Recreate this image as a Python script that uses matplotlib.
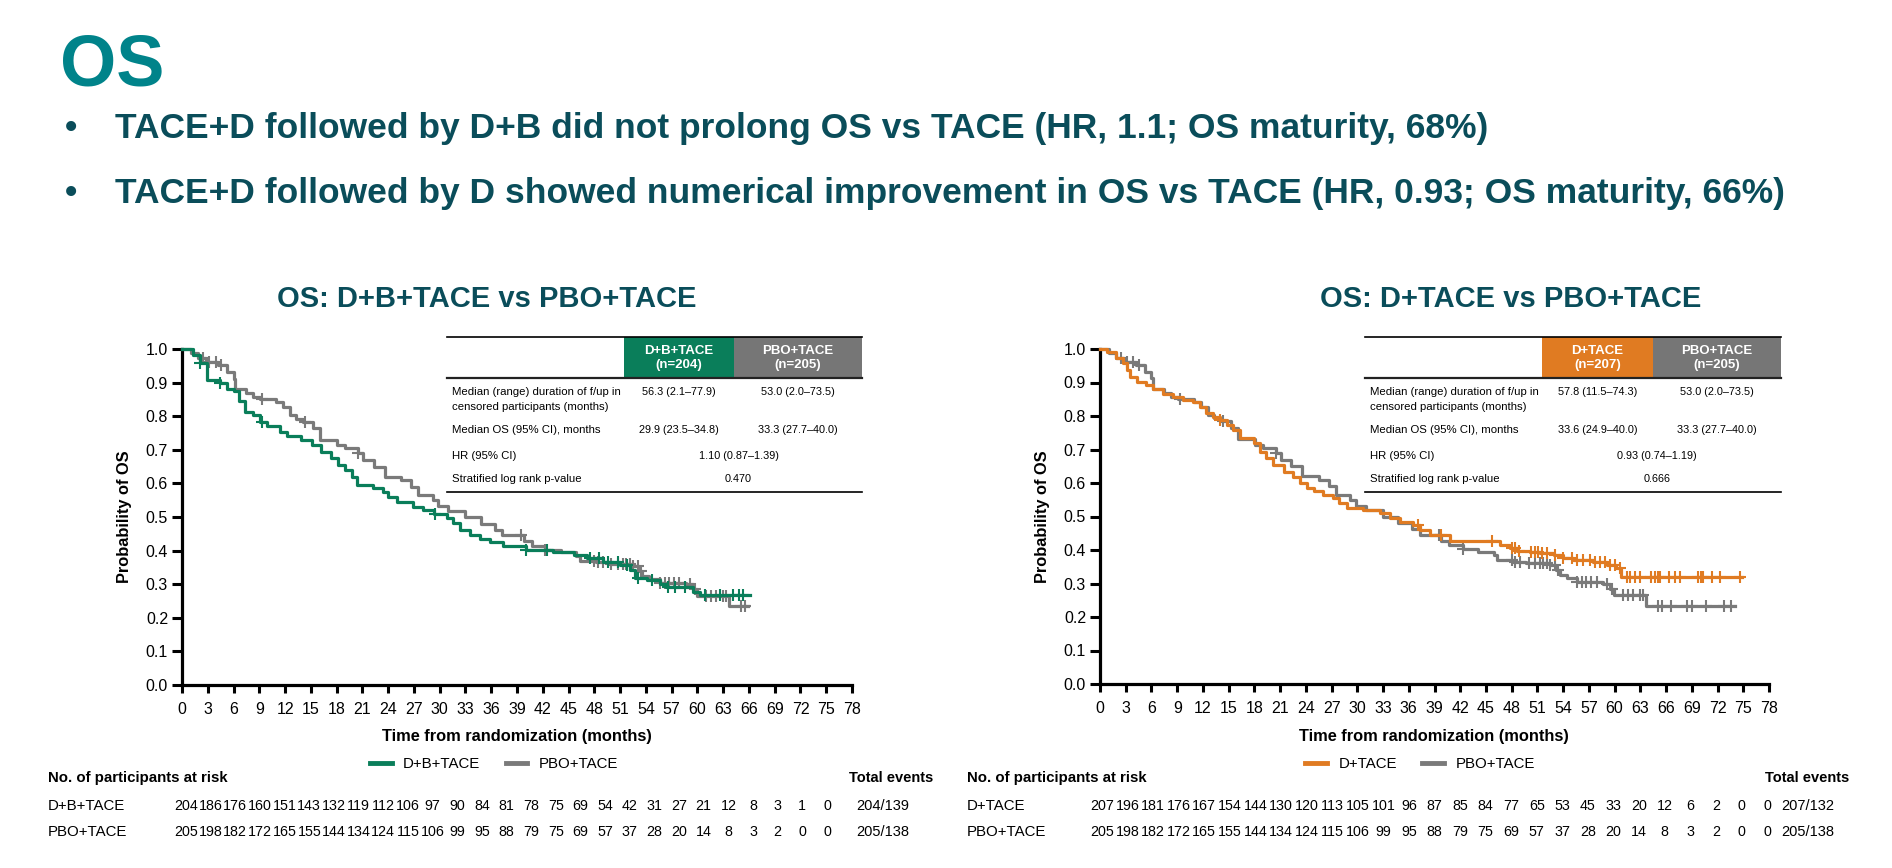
import numpy as np
import matplotlib
matplotlib.use("Agg")
import matplotlib.pyplot as plt
from matplotlib.lines import Line2D
from matplotlib.patches import Rectangle
from matplotlib.transforms import blended_transform_factory

NARROW = ["Liberation Sans Narrow", "Liberation Sans", "DejaVu Sans"]
plt.rcParams["font.family"] = NARROW

TEAL = "#00838A"
DARK = "#0A4D5A"
GREEN = "#0A7E5A"
ORANGE = "#E07B22"
GRAY = "#7A7A7A"

# ---- data ----
# PBO+TACE (same arm in both panels)
t_pbo = [0, 1.0, 1.9, 2.8, 4.2, 5.2, 6.0, 6.2, 7.5, 8.3, 9.1, 11.0, 11.8, 12.6, 13.3,
         14.1, 15.3, 16.1, 18.1, 19.0, 20.5, 21.1, 22.3, 23.6, 25.5, 26.7, 27.5, 29.2,
         29.8, 31.0, 33.0, 34.8, 36.4, 37.3, 39.8, 40.7, 42.3, 44.1, 45.9, 46.3, 48.2,
         49.7, 52.5, 53.2, 53.6, 54.4, 55.6, 58.7, 59.5, 59.9, 63.7]
s_pbo = [1.0, 0.987, 0.972, 0.962, 0.952, 0.932, 0.912, 0.88, 0.868, 0.858, 0.85, 0.843,
         0.828, 0.803, 0.793, 0.784, 0.764, 0.73, 0.714, 0.704, 0.69, 0.67, 0.65, 0.62,
         0.61, 0.59, 0.565, 0.55, 0.532, 0.518, 0.5, 0.48, 0.462, 0.445, 0.428, 0.414,
         0.402, 0.395, 0.385, 0.37, 0.365, 0.36, 0.355, 0.34, 0.325, 0.315, 0.305, 0.3,
         0.285, 0.265, 0.234]
c_pbo = [2.5, 3.2, 3.9, 4.5, 9.3, 14.3, 20.5, 39.5, 42.3, 48.0, 48.4, 49.0, 50.0, 50.7,
         51.3, 51.7, 52.1, 52.5, 53.1, 53.4, 55.6, 56.2, 56.7, 57.3, 57.9, 59.1, 59.7,
         61.0, 61.6, 62.2, 63.0, 63.3, 65.1, 65.5, 66.6, 68.4, 69.0, 70.7, 72.7, 73.6]

# D+B+TACE
t_db = [0, 1.3, 2.1, 2.9, 4.4, 5.2, 6.0, 6.6, 7.3, 8.3, 9.1, 9.9, 11.4, 12.2, 13.8, 15.1,
        16.2, 17.4, 18.2, 19.0, 19.8, 20.4, 22.2, 23.4, 24.0, 25.0, 26.9, 28.1, 29.3,
        30.8, 31.6, 32.4, 33.5, 34.7, 35.8, 37.4, 40.1, 43.2, 45.6, 47.1, 49.0, 51.0,
        52.1, 52.7, 54.1, 55.6, 56.4, 59.5, 60.3]
s_db = [1.0, 0.982, 0.957, 0.908, 0.9, 0.88, 0.875, 0.845, 0.813, 0.803, 0.784, 0.77,
        0.754, 0.74, 0.73, 0.714, 0.694, 0.675, 0.655, 0.64, 0.62, 0.595, 0.585, 0.575,
        0.56, 0.545, 0.531, 0.52, 0.51, 0.497, 0.481, 0.461, 0.446, 0.436, 0.426, 0.413,
        0.403, 0.397, 0.387, 0.377, 0.367, 0.357, 0.342, 0.317, 0.312, 0.302, 0.292,
        0.278, 0.268]
c_db = [2.1, 4.4, 9.3, 29.5, 40.1, 42.5, 47.5, 48.5, 49.6, 50.8, 51.8, 53.1, 54.7, 56.6,
        57.4, 58.5, 60.9, 62.6, 64.2, 64.8, 65.3]

# D+TACE
t_d = [0, 0.8, 1.9, 2.7, 3.1, 3.5, 4.3, 5.4, 6.2, 7.4, 8.5, 9.7, 10.9, 11.7, 12.4, 13.2,
       14.0, 14.8, 15.5, 16.3, 17.9, 18.7, 19.4, 20.2, 21.4, 22.5, 23.3, 24.1, 24.9, 26.0,
       27.2, 27.9, 28.8, 30.7, 32.6, 33.8, 35.0, 36.5, 37.3, 38.5, 40.8, 46.6, 47.8, 48.6,
       50.1, 51.3, 52.9, 54.0, 55.2, 57.5, 59.1, 60.2, 60.8]
s_d = [1.0, 0.992, 0.972, 0.957, 0.937, 0.917, 0.902, 0.892, 0.882, 0.867, 0.857, 0.848,
       0.843, 0.828, 0.808, 0.798, 0.788, 0.773, 0.758, 0.733, 0.718, 0.694, 0.674, 0.654,
       0.634, 0.619, 0.599, 0.585, 0.575, 0.564, 0.554, 0.539, 0.524, 0.519, 0.51, 0.495,
       0.485, 0.475, 0.46, 0.445, 0.427, 0.415, 0.405, 0.398, 0.395, 0.39, 0.385, 0.375,
       0.37, 0.365, 0.355, 0.345, 0.32]
c_d = [14.0, 37.1, 39.7, 45.7, 48.0, 48.4, 48.8, 50.3, 50.7, 51.1, 51.5, 52.1, 53.1, 54.0,
       55.0, 55.6, 56.3, 57.1, 57.7, 58.3, 58.9, 59.5, 60.0, 60.6, 61.4, 61.8, 62.4, 63.0,
       64.3, 64.7, 65.1, 65.3, 66.3, 67.0, 67.6, 69.7, 70.1, 70.3, 71.3, 72.3, 74.6]

# where each curve stops in each panel
end_left_db, end_left_pbo = 66.1, 65.9
end_right_d, end_right_pbo = 74.9, 74.0

risk_times = list(range(0, 79, 3))
risk_db = [204, 186, 176, 160, 151, 143, 132, 119, 112, 106, 97, 90, 84, 81, 78, 75, 69,
           54, 42, 31, 27, 21, 12, 8, 3, 1, 0]
risk_pbo = [205, 198, 182, 172, 165, 155, 144, 134, 124, 115, 106, 99, 95, 88, 79, 75, 69,
            57, 37, 28, 20, 14, 8, 3, 2, 0, 0]
risk_d = [207, 196, 181, 176, 167, 154, 144, 130, 120, 113, 105, 101, 96, 87, 85, 84, 77,
          65, 53, 45, 33, 20, 12, 6, 2, 0, 0]
events_db, events_pbo, events_d = "204/139", "205/138", "207/132"

table_left = [
    ("Median (range) duration of f/up in\ncensored participants (months)",
     "56.3 (2.1\u201377.9)", "53.0 (2.0\u201373.5)"),
    ("Median OS (95% CI), months", "29.9 (23.5\u201334.8)", "33.3 (27.7\u201340.0)"),
    ("HR (95% CI)", "1.10 (0.87\u20131.39)", None),
    ("Stratified log rank p-value", "0.470", None),
]
table_right = [
    ("Median (range) duration of f/up in\ncensored participants (months)",
     "57.8 (11.5\u201374.3)", "53.0 (2.0\u201373.5)"),
    ("Median OS (95% CI), months", "33.6 (24.9\u201340.0)", "33.3 (27.7\u201340.0)"),
    ("HR (95% CI)", "0.93 (0.74\u20131.19)", None),
    ("Stratified log rank p-value", "0.666", None),
]

W, H = 1892, 868
def fx(px):
    return px / W
def fy(py):
    return 1 - py / H

fig = plt.figure(figsize=(W / 100, H / 100), dpi=100)
fig.patch.set_facecolor("white")

# header texts
fig.text(fx(60), fy(86), "OS", fontsize=52, weight="bold", color=TEAL, va="baseline")
bullets = [
    "TACE+D followed by D+B did not prolong OS vs TACE (HR, 1.1; OS maturity, 68%)",
    "TACE+D followed by D showed numerical improvement in OS vs TACE (HR, 0.93; OS maturity, 66%)",
]
for i, b in enumerate(bullets):
    yb = 138 + i * 65
    fig.text(fx(65), fy(yb), "\u2022", fontsize=25, weight="bold", color=DARK, va="baseline")
    fig.text(fx(115), fy(yb), b, fontsize=25.5, weight="bold", color=DARK, va="baseline")


def step_at(t, s, x):
    idx = np.searchsorted(t, x, side="right") - 1
    return np.asarray(s)[idx]


def km(ax, t, s, cens, end, color):
    tt = list(t) + [end]
    ss = list(s) + [s[-1]]
    ax.step(tt, ss, where="post", color=color, lw=2.3, clip_on=False, zorder=3)
    c = np.array([x for x in cens if x <= end])
    ax.plot(c, step_at(t, s, c), ls="none", marker="+", ms=9, mew=1.5,
            color=color, clip_on=False, zorder=3)


def style_axes(ax):
    ax.set_xlim(0, 78)
    ax.set_ylim(0, 1.0)
    ax.set_xticks(np.arange(0, 79, 3))
    ax.set_yticks(np.arange(0, 1.01, 0.1))
    ax.set_yticklabels(["%.1f" % v for v in np.arange(0, 1.01, 0.1)])
    for sp in ["top", "right"]:
        ax.spines[sp].set_visible(False)
    for sp in ["left", "bottom"]:
        ax.spines[sp].set_linewidth(2.3)
    ax.tick_params(axis="y", length=7, width=2.2, labelsize=11.5, pad=3)
    ax.tick_params(axis="x", length=6, width=2.2, labelsize=11.5, pad=6)


def draw_table(x_left, x_c1, x_c2, x_right, head_color, head1, head2, rows):
    y_top, y_head, y_bot = 337, 378, 492
    fig.add_artist(Rectangle((fx(x_c1), fy(y_head)), fx(x_c2) - fx(x_c1),
                             (y_head - y_top) / H, color=head_color, lw=0))
    fig.add_artist(Rectangle((fx(x_c2), fy(y_head)), fx(x_right) - fx(x_c2),
                             (y_head - y_top) / H, color="#767676", lw=0))
    fig.add_artist(Line2D([fx(x_left), fx(x_right)], [fy(y_top)] * 2, color="black", lw=1.2))
    fig.add_artist(Line2D([fx(x_left), fx(x_right)], [fy(y_head)] * 2, color="#222222", lw=1.6))
    fig.add_artist(Line2D([fx(x_left), fx(x_right)], [fy(y_bot)] * 2, color="black", lw=1.2))
    m1 = (x_c1 + x_c2) / 2
    m2 = (x_c2 + x_right) / 2
    fig.text(fx(m1), fy(358), head1, ha="center", va="center", color="white",
             weight="bold", fontsize=9.5, linespacing=1.25)
    fig.text(fx(m2), fy(358), head2, ha="center", va="center", color="white",
             weight="bold", fontsize=9.5, linespacing=1.25)
    row_y = [392, 430, 456, 479]
    for (lab, v1, v2), yy in zip(rows, row_y):
        if "\n" in lab:
            l1, l2 = lab.split("\n")
            fig.text(fx(x_left + 5), fy(yy), l1, va="center", fontsize=8.2)
            fig.text(fx(x_left + 5), fy(yy + 15), l2, va="center", fontsize=8.2)
        else:
            fig.text(fx(x_left + 5), fy(yy), lab, va="center", fontsize=8.2)
        if v2 is None:
            fig.text(fx((m1 + m2) / 2), fy(yy), v1, ha="center", va="center", fontsize=7.8)
        else:
            fig.text(fx(m1), fy(yy), v1, ha="center", va="center", fontsize=7.8)
            fig.text(fx(m2), fy(yy), v2, ha="center", va="center", fontsize=7.8)


def risk_table(x0, x78, xlab, x_tot, x_tot_right, names, counts, totals):
    rt = fig.add_axes([fx(x0), 0.0, fx(x78) - fx(x0), 0.01])
    rt.set_xlim(0, 78)
    rt.axis("off")
    tr = blended_transform_factory(rt.transData, fig.transFigure)
    fig.text(fx(xlab), fy(778), "No. of participants at risk", weight="bold",
             fontsize=10.8, va="center")
    fig.text(fx(x_tot_right), fy(778), "Total events", weight="bold", fontsize=10.5,
             va="center", ha="right")
    for k, (nm, cnt, tot) in enumerate(zip(names, counts, totals)):
        yy = 806 + 26 * k
        fig.text(fx(xlab), fy(yy), nm, fontsize=10.8, va="center")
        for t, n in zip(risk_times, cnt):
            rt.text(t, fy(yy), str(n), transform=tr, ha="center", va="center",
                    fontsize=10.3, clip_on=False)
        fig.text(fx(x_tot), fy(yy), tot, fontsize=10.5, va="center", ha="center")


def legend(ax, cx, color, name):
    hs = [Line2D([], [], color=color, lw=3.5), Line2D([], [], color=GRAY, lw=3.5)]
    ax.legend(hs, [name, "PBO+TACE"], ncol=2, loc="center",
              bbox_to_anchor=(fx(cx), fy(764)), bbox_transform=fig.transFigure,
              frameon=False, fontsize=10.8, handlelength=1.45, columnspacing=1.7,
              handletextpad=0.75)


# ---- left panel ----
ax1 = fig.add_axes([fx(182), fy(685), fx(852) - fx(182), (685 - 349) / H])
km(ax1, t_pbo, s_pbo, c_pbo, end_left_pbo, GRAY)
km(ax1, t_db, s_db, c_db, end_left_db, GREEN)
style_axes(ax1)
fig.text(fx(487), fy(307), "OS: D+B+TACE vs PBO+TACE", fontsize=21, weight="bold",
         color=DARK, ha="center", va="baseline")
fig.text(fx(125), fy(517), "Probability of OS", rotation=90, weight="bold",
         fontsize=11.8, ha="center", va="center")
fig.text(fx(517), fy(736), "Time from randomization (months)", weight="bold",
         fontsize=11.8, ha="center", va="center")
legend(ax1, 494, GREEN, "D+B+TACE")
draw_table(447, 624, 734, 862, GREEN, "D+B+TACE\n(n=204)", "PBO+TACE\n(n=205)", table_left)
risk_table(186, 827, 48, 883, 933, ["D+B+TACE", "PBO+TACE"], [risk_db, risk_pbo],
           [events_db, events_pbo])

# ---- right panel ----
ax2 = fig.add_axes([fx(1100), fy(684), fx(1769) - fx(1100), (684 - 349) / H])
km(ax2, t_pbo, s_pbo, c_pbo, end_right_pbo, GRAY)
km(ax2, t_d, s_d, c_d, end_right_d, ORANGE)
style_axes(ax2)
fig.text(fx(1511), fy(307), "OS: D+TACE vs PBO+TACE", fontsize=21, weight="bold",
         color=DARK, ha="center", va="baseline")
fig.text(fx(1043), fy(517), "Probability of OS", rotation=90, weight="bold",
         fontsize=11.8, ha="center", va="center")
fig.text(fx(1434), fy(736), "Time from randomization (months)", weight="bold",
         fontsize=11.8, ha="center", va="center")
legend(ax2, 1420, ORANGE, "D+TACE")
draw_table(1365, 1542, 1653, 1781, ORANGE, "D+TACE\n(n=207)", "PBO+TACE\n(n=205)", table_right)
risk_table(1102, 1767, 967, 1808, 1849, ["D+TACE", "PBO+TACE"], [risk_d, risk_pbo],
           [events_d, events_pbo])

fig.savefig("out.png", dpi=100)
